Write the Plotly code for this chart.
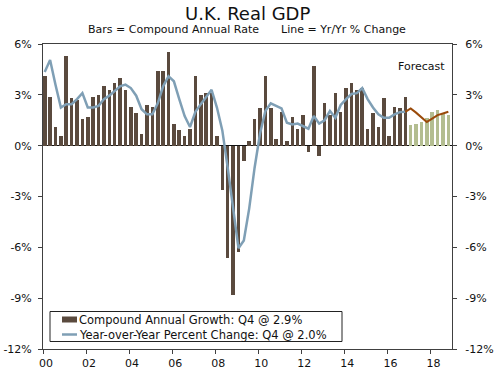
import plotly.graph_objects as go

# Quarterly data, 2000 Q1 .. 2016 Q4 (actual), 2017 Q1 .. 2018 Q4 (forecast)
start_year = 2000
cagr_actual = [4.1, 2.9, 1.1, 0.6, 5.3, 2.8, 2.7, 1.6, 1.7, 2.9, 3.0, 3.5, 3.3, 3.7, 4.0, 3.3,
               2.3, 1.9, 0.7, 2.4, 2.3, 4.4, 4.4, 5.5, 1.3, 0.9, 0.6, 1.0, 4.1, 3.0, 3.1, 3.1,
               0.6, -2.6, -6.6, -8.8, -6.3, -0.9, 0.25, 1.6, 2.2, 4.1, 2.2, 0.4, 2.0, 0.25, 1.7, 1.0,
               1.8, -0.35, 4.7, -0.6, 2.5, 1.8, 3.1, 2.0, 3.4, 3.7, 3.3, 3.4, 1.0, 1.9, 1.1, 2.8,
               0.6, 2.3, 2.2, 2.9]
yoy_actual = [4.35, 5.05, 3.6, 2.25, 2.45, 2.45, 2.75, 3.1, 2.25, 2.25, 2.35, 2.75, 2.95, 3.25, 3.5, 3.6,
              3.4, 2.95, 2.15, 1.85, 1.85, 2.5, 3.5, 4.1, 3.8, 2.75, 1.75, 1.1, 2.0, 2.45, 2.85, 3.3,
              2.25, 0.9, -1.3, -3.7, -6.05, -5.6, -3.7, -1.3, 0.7, 2.05, 2.5, 2.35, 2.2, 1.35, 1.25, 1.3,
              1.15, 1.0, 1.75, 1.3, 1.5, 2.05, 1.65, 2.4, 2.75, 3.05, 3.1, 3.4, 2.75, 2.25, 1.85, 1.65,
              1.65, 1.85, 1.98, 2.0]
cagr_forecast = [1.2, 1.3, 1.4, 1.65, 2.0, 2.1, 1.95, 1.8]
yoy_forecast = [2.2, 1.95, 1.65, 1.4, 1.6, 1.8, 1.9, 2.0]

legend_labels = ["Compound Annual Growth: Q4 @ 2.9%", "Year-over-Year Percent Change: Q4 @ 2.0%"]
y_ticks = [6, 3, 0, -3, -6, -9, -12]
y_ticklabels = ["6%", "3%", "0%", "-3%", "-6%", "-9%", "-12%"]
x_ticks = list(range(2000, 2019, 2))
x_ticklabels = ["00", "02", "04", "06", "08", "10", "12", "14", "16", "18"]

n_act = len(cagr_actual)
x_act = [start_year + (i + 0.32) / 4 for i in range(n_act)]
x_fc = [start_year + (n_act + i + 0.32) / 4 for i in range(len(cagr_forecast))]

BAR = "#5a4a3e"
LINE = "#7f9fb5"
FC_BAR = "#b3bd90"
FC_LINE = "#9a4a0a"
FONT = "DejaVu Sans"
TXT = "#111111"

# plot-area pixel geometry helpers (plot spans x 43..452, y 44..349)
L, R, T, B = 43, 452, 44, 349
def px(x):
    return (x - L) / (R - L)
def py(y):
    return (B - y) / (B - T)

fig = go.Figure()
fig.add_trace(go.Bar(x=x_act, y=cagr_actual, marker=dict(color=BAR, line=dict(width=0)),
                     width=0.165, name=legend_labels[0], showlegend=False))
fig.add_trace(go.Bar(x=x_fc, y=cagr_forecast, marker=dict(color=FC_BAR, line=dict(width=0)),
                     width=0.165, showlegend=False))
fig.add_trace(go.Scatter(x=x_act, y=yoy_actual, mode="lines", line=dict(color=LINE, width=2.5),
                         name=legend_labels[1], showlegend=False))
fig.add_trace(go.Scatter(x=[x_act[-1]] + x_fc, y=[yoy_actual[-1]] + yoy_forecast, mode="lines",
                         line=dict(color=FC_LINE, width=2), showlegend=False))
# invisible trace for right axis
fig.add_trace(go.Scatter(x=[start_year], y=[0], yaxis="y2", mode="markers",
                         marker=dict(opacity=0), showlegend=False, hoverinfo="skip"))

axis_color = "#404040"
shapes = [
    # legend box
    dict(type="rect", xref="paper", yref="paper", x0=px(50), x1=px(342), y0=py(341.5), y1=py(311.5),
         line=dict(color="#222222", width=1), fillcolor="white", layer="above"),
    # bar swatch
    dict(type="rect", xref="paper", yref="paper", x0=px(62), x1=px(77), y0=py(322.5), y1=py(316.5),
         line=dict(width=0), fillcolor=BAR, layer="above"),
    # line swatch
    dict(type="line", xref="paper", yref="paper", x0=px(62), x1=px(77), y0=py(334.5), y1=py(334.5),
         line=dict(color=LINE, width=2.5), layer="above"),
]

fig.update_layout(
    width=500, height=376,
    margin=dict(l=L, r=500 - R, t=T, b=376 - B, autoexpand=False),
    paper_bgcolor="white", plot_bgcolor="white",
    font=dict(family=FONT, size=11, color=TXT),
    bargap=0,
    showlegend=False,
    shapes=shapes,
    xaxis=dict(range=[2000, 2019], tickvals=x_ticks, ticktext=x_ticklabels,
               showgrid=False, zeroline=False, showline=True, mirror=True,
               linecolor=axis_color, linewidth=1, ticks="outside", ticklen=4,
               tickcolor=axis_color, ticklabelshift=3),
    yaxis=dict(range=[-12, 6], tickvals=y_ticks, ticktext=y_ticklabels,
               showgrid=False, zeroline=True, zerolinecolor="#111111", zerolinewidth=1,
               showline=True, linecolor=axis_color, linewidth=1, ticks="outside",
               ticklen=4, tickcolor=axis_color, ticklabelstandoff=4),
    yaxis2=dict(range=[-12, 6], tickvals=y_ticks, ticktext=y_ticklabels, overlaying="y",
                side="right", showgrid=False, zeroline=False, showline=True,
                linecolor=axis_color, linewidth=1, ticks="outside", ticklen=4,
                tickcolor=axis_color, ticklabelstandoff=6),
    annotations=[
        dict(text="U.K. Real GDP", x=px(247), y=py(14), xref="paper", yref="paper",
             xanchor="center", yanchor="middle", showarrow=False,
             font=dict(size=18, color=TXT, family=FONT)),
        dict(text="Bars = Compound Annual Rate", x=px(86), y=py(30),
             xref="paper", yref="paper", xanchor="left", yanchor="middle", showarrow=False,
             font=dict(size=11, color=TXT, family=FONT)),
        dict(text="Line = Yr/Yr % Change", x=px(279), y=py(30),
             xref="paper", yref="paper", xanchor="left", yanchor="middle", showarrow=False,
             font=dict(size=11, color=TXT, family=FONT)),
        dict(text="Forecast", x=px(421), y=py(67), xref="paper", yref="paper",
             xanchor="center", yanchor="middle", showarrow=False,
             font=dict(size=11, color=TXT, family=FONT)),
        dict(text=legend_labels[0], x=px(77), y=py(319.5), xref="paper", yref="paper",
             xanchor="left", yanchor="middle", showarrow=False,
             font=dict(size=11.5, color=TXT, family=FONT)),
        dict(text=legend_labels[1], x=px(77), y=py(334.5), xref="paper", yref="paper",
             xanchor="left", yanchor="middle", showarrow=False,
             font=dict(size=11.5, color=TXT, family=FONT)),
    ],
)

fig.write_html("out.html", post_script="document.body.style.margin='0';",
               config={"displayModeBar": False})
